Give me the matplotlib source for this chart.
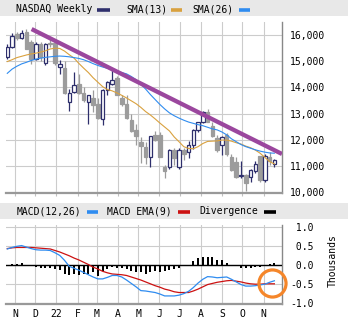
import numpy as np
import pandas as pd
import matplotlib
matplotlib.use('Agg')
import matplotlib.pyplot as plt
from matplotlib.patches import Rectangle
from matplotlib.lines import Line2D

# недельные свечи NASDAQ, с 25.10.2021
weeks = pd.date_range('2021-10-25', periods=57, freq='7D')

opens = [15150, 15560, 16040, 15880, 16100, 15740, 15080, 15650, 14920, 15700,
         15690, 14770, 14730, 13460, 13820, 14150, 13800, 13430, 13580, 13380,
         12800, 13900, 14150, 14350, 13580, 13350, 12770, 12360, 11930, 11740,
         11360, 12190, 12190, 10970, 10950, 11620, 10960, 11600, 11550, 11810,
         12380, 12700, 13050, 12510, 12080, 11810, 12190, 11360, 11170, 10620,
         10650, 10580, 10820, 11380, 10460, 11350, 11080]
highs = [15650, 16080, 16100, 16210, 16230, 15800, 15750, 15720, 15700, 15900,
         15860, 15050, 15000, 13950, 14580, 14500, 14000, 13730, 13900, 13600,
         13950, 14230, 14650, 14450, 13700, 13700, 13000, 12600, 12100, 11900,
         12150, 12330, 12300, 11050, 11650, 11700, 11680, 11700, 11950, 12400,
         12700, 13100, 13180, 12700, 12200, 12150, 12270, 11450, 11350, 11200,
         10700, 10900, 11200, 11400, 11450, 11550, 11280]
lows = [15080, 15500, 15800, 15850, 15450, 14900, 15050, 15000, 14860, 15550,
        14850, 14530, 13750, 13090, 13800, 13750, 13450, 12590, 13050, 12800,
        12560, 13700, 14100, 13700, 13300, 12800, 12300, 11800, 11110, 11070,
        10970, 11950, 11340, 10540, 10900, 11050, 10900, 11230, 11300, 11650,
        12300, 12650, 12680, 12100, 11550, 11420, 11400, 10800, 10530, 10550,
        10050, 10400, 10750, 10400, 10400, 11050, 10950]
closes = [15540, 15970, 15900, 16080, 15480, 15080, 15650, 15170, 15650, 15645,
          14930, 14900, 13790, 13800, 14100, 13800, 13540, 13700, 13320, 12840,
          13900, 14190, 14270, 13730, 13350, 12840, 12340, 12150, 11780, 11350,
          12130, 12010, 11360, 10800, 11600, 11300, 11620, 11450, 11810, 12380,
          12670, 13050, 12700, 12140, 11600, 12120, 11450, 10850, 10590, 10660,
          10340, 10850, 11080, 10470, 11380, 11200, 11230]

sma13 = [14990, 15060, 15140, 15190, 15240, 15280, 15310, 15350, 15400, 15470,
         15500, 15490, 15390, 15250, 15120, 14920, 14740, 14570, 14370, 14200,
         14030, 13920, 13870, 13790, 13700, 13600, 13490, 13380, 13240, 13080,
         12950, 12800, 12640, 12490, 12340, 12110, 11930, 11740, 11670, 11660,
         11740, 11860, 11940, 11950, 11960, 11990, 11990, 11950, 11890, 11840,
         11760, 11700, 11610, 11490, 11330, 11170, 11080]
sma26 = [14540, 14700, 14810, 14900, 14960, 15030, 15080, 15120, 15150, 15170,
         15190, 15200, 15190, 15170, 15140, 15110, 15060, 14990, 14910, 14840,
         14780, 14730, 14680, 14620, 14570, 14520, 14420, 14300, 14120, 13940,
         13730, 13540, 13350, 13180, 13030, 12920, 12830, 12750, 12680, 12630,
         12580, 12540, 12480, 12420, 12380, 12300, 12190, 12040, 11930, 11820,
         11740, 11680, 11620, 11570, 11530, 11500, 11490]

# MACD в тысячах
macd = [0.42, 0.46, 0.49, 0.51, 0.47, 0.43, 0.40, 0.39, 0.39, 0.38,
        0.32, 0.25, 0.12, -0.04, -0.09, -0.14, -0.20, -0.26, -0.32, -0.37,
        -0.37, -0.33, -0.28, -0.28, -0.32, -0.40, -0.49, -0.58, -0.68, -0.69,
        -0.71, -0.73, -0.77, -0.82, -0.82, -0.82, -0.80, -0.76, -0.70, -0.60,
        -0.48, -0.38, -0.31, -0.32, -0.34, -0.33, -0.32, -0.38, -0.45, -0.52,
        -0.56, -0.56, -0.55, -0.53, -0.51, -0.46, -0.42]
macd_ema = [0.43, 0.45, 0.46, 0.46, 0.46, 0.46, 0.45, 0.44, 0.43, 0.42,
            0.38, 0.34, 0.29, 0.24, 0.18, 0.13, 0.07, 0.01, -0.06, -0.11,
            -0.17, -0.21, -0.24, -0.25, -0.26, -0.28, -0.32, -0.36, -0.40, -0.45,
            -0.50, -0.55, -0.59, -0.64, -0.67, -0.71, -0.73, -0.73, -0.73, -0.69,
            -0.64, -0.58, -0.52, -0.49, -0.46, -0.44, -0.42, -0.41, -0.43, -0.45,
            -0.48, -0.50, -0.51, -0.51, -0.50, -0.50, -0.50]
divergence = [0.0, 0.01, 0.01, 0.04, 0.0, -0.04, -0.05, -0.07, -0.07, -0.07,
              -0.11, -0.14, -0.23, -0.27, -0.25, -0.27, -0.23, -0.25, -0.20, -0.29,
              -0.16, -0.10, -0.05, -0.07, -0.07, -0.11, -0.16, -0.20, -0.20, -0.23,
              -0.20, -0.16, -0.18, -0.16, -0.14, -0.11, -0.07, -0.04, -0.01, 0.09,
              0.18, 0.22, 0.22, 0.20, 0.12, 0.12, 0.06, 0.0, -0.04, -0.07,
              -0.09, -0.07, -0.05, -0.05, -0.01, 0.01, 0.04]

# линия тренда (по индексу недели)
trend_x = [5.1, 57.6]
trend_y = [16230, 11460]

month_labels = ['N', 'D', '22', 'F', 'M', 'A', 'M', 'J', 'J', 'A', 'S', 'O', 'N']
price_ticks = [10000, 11000, 12000, 13000, 14000, 15000, 16000]
macd_ticks = [-1.0, -0.5, 0.0, 0.5, 1.0]

W, H = 348, 322
MONO = 'DejaVu Sans Mono'
NAVY = '#2e2f6c'
GRAY = '#9c9c9c'
GRID = '#cccccc'

x = np.arange(len(closes))
month_starts = pd.date_range('2021-11-01', '2022-11-01', freq='MS')
month_pos = (month_starts - weeks[0]).days / 7 + 0.6


def px_box(x0, y0, x1, y1):
    # прямоугольник в пикселях -> координаты фигуры
    return [x0 / W, 1 - y1 / H, (x1 - x0) / W, (y1 - y0) / H]


fig = plt.figure(figsize=(W / 100, H / 100), dpi=100)

# серые полосы легенд
for y0, y1 in [(0, 16), (203, 219)]:
    fig.patches.append(Rectangle((0, 1 - y1 / H), 1, (y1 - y0) / H, transform=fig.transFigure,
                                 facecolor='#e8e8e8', edgecolor='none', zorder=0))


def legend_text(xp, yp, s):
    fig.text(xp / W, 1 - yp / H, s, fontsize=7, family=MONO, va='center', ha='left', color='black')


def legend_swatch(x0, x1, yp, color):
    fig.lines.append(Line2D([x0 / W, x1 / W], [1 - yp / H, 1 - yp / H], transform=fig.transFigure,
                            color=color, lw=2.6, solid_capstyle='butt'))


legend_text(16, 9.5, 'NASDAQ Weekly')
legend_swatch(97, 110, 10, NAVY)
legend_text(126, 9.5, 'SMA(13)')
legend_swatch(171, 182, 10, '#d9a13e')
legend_text(192, 9.5, 'SMA(26)')
legend_swatch(239, 250, 10, '#2f8cf0')

legend_text(17, 211.5, 'MACD(12,26)')
legend_swatch(87, 98, 212, '#2f8cf0')
legend_text(107, 211.5, 'MACD EMA(9)')
legend_swatch(178, 190, 212, '#cc1111')
legend_text(199, 211.5, 'Divergence')
legend_swatch(264, 276, 212, 'black')

# верхний график: свечи
ax = fig.add_axes(px_box(6, 22, 282, 193))
for i in x:
    up = closes[i] >= opens[i]
    col = NAVY if up else GRAY
    ax.vlines(i, lows[i], highs[i], color=col, lw=0.9, zorder=3)
    lo, hi = min(opens[i], closes[i]), max(opens[i], closes[i])
    ax.bar(i, max(hi - lo, 15), bottom=lo, width=0.74,
           facecolor='white' if up else GRAY, edgecolor=col, lw=0.9, zorder=4)

ax.plot(x, sma13, color='#d9a13e', lw=0.8, zorder=5)
ax.plot(x, sma26, color='#2f8cf0', lw=0.8, zorder=5)
ax.plot(trend_x, trend_y, color='#9b479e', lw=3.1, solid_capstyle='butt', zorder=6)

ax.set_xlim(-0.27, 57.6)
ax.set_ylim(9970, 16500)
ax.set_yticks(price_ticks)
ax.set_yticklabels([f'{v:,}' for v in price_ticks], family=MONO, fontsize=7)
ax.yaxis.tick_right()
ax.set_xticks(month_pos)
ax.set_xticklabels([])
ax.tick_params(axis='y', length=0, pad=6)
ax.tick_params(axis='x', length=2.5, width=0.8, color='#c0c0c0')
ax.grid(True, color=GRID, lw=0.8, zorder=0)
ax.set_axisbelow(True)
for side in ['left', 'top']:
    ax.spines[side].set_visible(False)
ax.spines['right'].set_color('#888888')
ax.spines['right'].set_linewidth(1.0)
ax.spines['bottom'].set_color('#999999')
ax.spines['bottom'].set_linewidth(1.6)

# нижний график: MACD
ax2 = fig.add_axes(px_box(6, 225, 282, 303.5))
ax2.bar(x, divergence, width=0.42, color='black', zorder=3)
ax2.axhline(0, color='black', lw=1.0, zorder=3)
ax2.plot(x, macd_ema, color='#cc1111', lw=0.9, zorder=4)
ax2.plot(x, macd, color='#2f8cf0', lw=0.9, zorder=5)
ax2.plot([55.5], [-0.47], marker='o', ms=19.5, mfc='none', mec='#f5862a', mew=2.3,
         clip_on=False, zorder=7)

ax2.set_xlim(-0.27, 57.6)
ax2.set_ylim(-1.02, 1.053)
ax2.set_yticks(macd_ticks)
ax2.set_yticklabels([f'{v:4.1f}' for v in macd_ticks], family=MONO, fontsize=7)
ax2.yaxis.tick_right()
ax2.set_xticks(month_pos)
ax2.set_xticklabels(month_labels, family=MONO, fontsize=7)
ax2.tick_params(axis='y', length=0, pad=6)
ax2.tick_params(axis='x', length=0, pad=4)
ax2.grid(True, color=GRID, lw=0.8, zorder=0)
ax2.set_axisbelow(True)
for side in ['left', 'top']:
    ax2.spines[side].set_visible(False)
ax2.spines['right'].set_color('#888888')
ax2.spines['right'].set_linewidth(1.0)
ax2.spines['bottom'].set_color('#999999')
ax2.spines['bottom'].set_linewidth(1.6)

fig.text(333 / W, 1 - 261 / H, 'Thousands', rotation=90, fontsize=7, family=MONO,
         va='center', ha='center')

fig.savefig('out.png', dpi=100)
